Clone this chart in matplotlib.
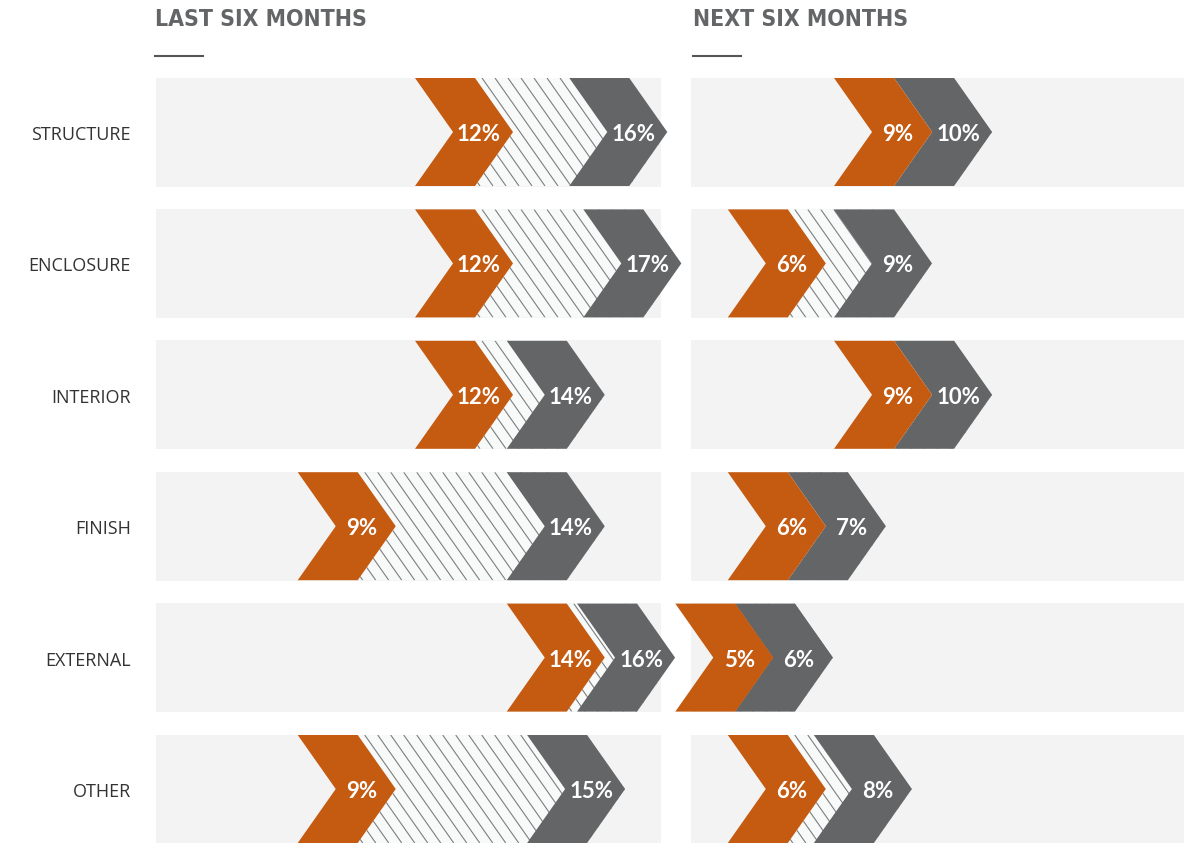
import numpy as np
import matplotlib
matplotlib.use('agg')
import matplotlib.pyplot as plt
from matplotlib.patches import Polygon, Rectangle
from matplotlib.collections import LineCollection
from matplotlib.lines import Line2D

# -------------------- data --------------------
categories = ['STRUCTURE', 'ENCLOSURE', 'INTERIOR', 'FINISH', 'EXTERNAL', 'OTHER']

# values estimated from chevron tips (labels show them rounded)
last_low = [11.97, 11.97, 11.97, 8.8, 14.45, 8.8]
last_high = [16.14, 16.52, 14.45, 14.45, 16.35, 15.0]
next_low = [8.55, 6.02, 8.55, 6.02, 4.77, 6.02]
next_high = [9.98, 8.55, 9.98, 7.45, 6.19, 8.07]

titles = ['LAST SIX MONTHS', 'NEXT SIX MONTHS']

# -------------------- style --------------------
ORANGE = '#c55a11'
GREY = '#646567'
PANEL = '#f2f3f2'
HATCH_BG = '#f8faf9'
HATCH_LINE = '#7d7e7f'

W, H = 1184, 843
PITCH = 131.4          # px between rows
TIP, BODY, HALF = 38, 60, 54   # chevron geometry in px

fig = plt.figure(figsize=(W / 100, H / 100), dpi=100)

ax_last = fig.add_axes([156 / W, 0, 505 / W, 766 / H])
ax_next = fig.add_axes([691 / W, 0, 493 / W, 766 / H])
ax_last.set_xlim(2.32, 15.97)
ax_next.set_xlim(2.81, 14.55)


def chevron(tip, y, px, py):
    d, w, h = TIP * px, BODY * px, HALF * py
    return [(tip - d - w, y - h), (tip - d, y - h), (tip, y),
            (tip - d, y + h), (tip - d - w, y + h), (tip - w, y)]


def draw_panel(ax, low, high):
    ax.set_ylim(5 + (H - 789) / PITCH, -55 / PITCH)
    ax.axis('off')
    x0, x1 = ax.get_xlim()
    px = (x1 - x0) / (ax.get_position().width * W)   # data units per pixel
    py = 1 / PITCH
    for i in range(len(categories)):
        ax.add_patch(Rectangle((x0, i - 54.5 * py), x1 - x0, 109 * py,
                               color=PANEL, lw=0, zorder=0))
        lo, hi = low[i], high[i]
        # hatched band between the two chevrons
        d, h = TIP * px, HALF * py
        band = Polygon([(lo - d, i - h), (hi - d, i - h), (hi, i),
                        (hi - d, i + h), (lo - d, i + h), (lo, i)],
                       closed=True, fc=HATCH_BG, ec='none', zorder=1,
                       clip_on=False)
        ax.add_patch(band)
        step = 13 * px
        starts = np.arange(lo - d - BODY * px - 2 * d, hi, step)
        segs = [[(s, i - h), (s + 2 * d, i + h)] for s in starts]
        lc = LineCollection(segs, colors=HATCH_LINE, linewidths=0.8, zorder=2)
        ax.add_collection(lc)
        lc.set_clip_path(band)

        ax.add_patch(Polygon(chevron(hi, i, px, py), closed=True, fc=GREY,
                             ec='none', zorder=3, clip_on=False))
        ax.add_patch(Polygon(chevron(lo, i, px, py), closed=True, fc=ORANGE,
                             ec='none', zorder=4, clip_on=False))
        for v in (lo, hi):
            ax.text(v - 34 * px, i + 2.5 * py, f'{round(v)}%', color='white',
                    fontsize=16, fontweight='bold', family='Lato',
                    ha='center', va='center', zorder=5, clip_on=False)
    return px


px_last = draw_panel(ax_last, last_low, last_high)
draw_panel(ax_next, next_low, next_high)

x0 = ax_last.get_xlim()[0]
for i, cat in enumerate(categories):
    ax_last.text(x0 - 25 * px_last, i + 3 / PITCH, cat, ha='right', va='center',
                 fontsize=13, color='#333333', family='Open Sans')

for left, title in zip([155, 693], titles):
    fig.text(left / W, 1 - 20 / H, title, ha='left', va='center',
             fontsize=16.5, fontweight='heavy', fontstretch='condensed',
             color='#646567', family='DejaVu Sans')
    fig.add_artist(Line2D([left / W, (left + 48) / W], [1 - 56 / H] * 2,
                          color='#555555', lw=1.5))

fig.savefig('out.png', dpi=100)
